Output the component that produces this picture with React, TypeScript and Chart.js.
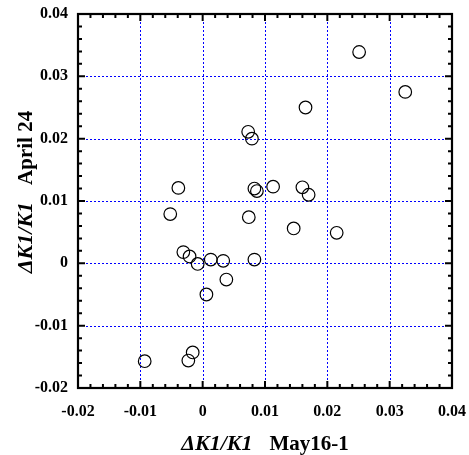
import React, { useEffect, useRef } from "react";
import { Chart, registerables } from "chart.js";

Chart.register(...registerables);

// ΔK1/K1 May16-1 (x) vs ΔK1/K1 April 24 (y)
const xValues = [
  0.0251, 0.0325, 0.0165, 0.0073, 0.0079, -0.0039, 0.0083, 0.0087, 0.0113,
  0.016, 0.017, -0.0052, 0.0074, 0.0146, 0.0215, 0.0083, -0.0031, -0.0021,
  -0.0008, 0.0013, 0.0033, 0.0038, 0.0006, -0.0093, -0.0016, -0.0023,
];
const yValues = [
  0.0339, 0.0275, 0.025, 0.0211, 0.02, 0.0121, 0.012, 0.0116, 0.0123, 0.0122,
  0.011, 0.0079, 0.0074, 0.0056, 0.0049, 0.0006, 0.0018, 0.0011, -0.0001,
  0.0006, 0.0004, -0.0026, -0.005, -0.0157, -0.0143, -0.0156,
];
const axisMin = -0.02;
const axisMax = 0.04;
const majorStep = 0.01;
const minorStep = 0.002;
const xTitleItalic = "\u0394K1/K1";
const xTitleRest = "May16-1";
const yTitleItalic = "\u0394K1/K1";
const yTitleRest = "April 24";

const FONT = '"Liberation Serif", "Times New Roman", serif';

function fmt(v: number) {
  const r = parseFloat(v.toFixed(4));
  return r === 0 ? "0" : String(r);
}

const framePlugin = {
  id: "frame",
  beforeDatasetsDraw(chart: any) {
    const { ctx, chartArea: a, scales } = chart;
    const xs = scales.x;
    const ys = scales.y;
    ctx.save();
    ctx.strokeStyle = "#0000ff";
    ctx.lineWidth = 1;
    ctx.setLineDash([2, 2]);
    const nMaj = Math.round((axisMax - axisMin) / majorStep);
    for (let i = 1; i < nMaj; i++) {
      const v = axisMin + i * majorStep;
      const px = Math.round(xs.getPixelForValue(v)) + 0.5;
      ctx.beginPath();
      ctx.moveTo(px, a.top + 8);
      ctx.lineTo(px, a.bottom - 8);
      ctx.stroke();
      const py = Math.round(ys.getPixelForValue(v)) + 0.5;
      ctx.beginPath();
      ctx.moveTo(a.left + 8, py);
      ctx.lineTo(a.right - 8, py);
      ctx.stroke();
    }
    ctx.restore();
  },
  afterDraw(chart: any) {
    const { ctx, chartArea: a, scales } = chart;
    const xs = scales.x;
    const ys = scales.y;
    ctx.save();
    ctx.strokeStyle = "#000";
    ctx.lineWidth = 2;
    ctx.setLineDash([]);
    const nMin = Math.round((axisMax - axisMin) / minorStep);
    for (let i = 0; i <= nMin; i++) {
      const v = axisMin + i * minorStep;
      const len = i % 5 === 0 ? 7 : 4;
      const px = xs.getPixelForValue(v);
      const py = ys.getPixelForValue(v);
      ctx.beginPath();
      ctx.moveTo(px, a.bottom);
      ctx.lineTo(px, a.bottom - len);
      ctx.moveTo(px, a.top);
      ctx.lineTo(px, a.top + len);
      ctx.moveTo(a.left, py);
      ctx.lineTo(a.left + len, py);
      ctx.moveTo(a.right, py);
      ctx.lineTo(a.right - len, py);
      ctx.stroke();
    }
    ctx.lineWidth = 2.2;
    ctx.strokeRect(a.left, a.top, a.right - a.left, a.bottom - a.top);

    // axis titles (mixed italic / upright)
    ctx.fillStyle = "#000";
    ctx.textBaseline = "alphabetic";
    ctx.textAlign = "left";
    const fItalic = `italic bold 22px ${FONT}`;
    const fBold = `bold 21px ${FONT}`;
    const gap = 17;
    // x title
    ctx.font = fItalic;
    const w1 = ctx.measureText(xTitleItalic).width;
    ctx.font = fBold;
    const w2 = ctx.measureText(xTitleRest).width;
    const cx = (a.left + a.right) / 2;
    let sx = cx - (w1 + gap + w2) / 2;
    ctx.font = fItalic;
    ctx.fillText(xTitleItalic, sx, 450);
    ctx.font = fBold;
    ctx.fillText(xTitleRest, sx + w1 + gap, 450);
    // y title
    ctx.font = fItalic;
    const v1 = ctx.measureText(yTitleItalic).width;
    ctx.font = fBold;
    const v2 = ctx.measureText(yTitleRest).width;
    const cy = (a.top + a.bottom) / 2 - 9;
    ctx.translate(32, cy);
    ctx.rotate(-Math.PI / 2);
    let sy = -(v1 + gap + v2) / 2;
    ctx.font = fItalic;
    ctx.fillText(yTitleItalic, sy, 0);
    ctx.font = fBold;
    ctx.fillText(yTitleRest, sy + v1 + gap, 0);
    ctx.restore();
  },
};

export default function App() {
  const ref = useRef<HTMLCanvasElement>(null);
  useEffect(() => {
    if (!ref.current) return;
    const points = xValues.map((x, i) => ({ x, y: yValues[i] }));
    const chart = new Chart(ref.current, {
      type: "scatter",
      data: {
        datasets: [
          {
            data: points,
            pointRadius: 6.3,
            pointHoverRadius: 6.3,
            pointBorderWidth: 1.2,
            pointBorderColor: "#000",
            pointBackgroundColor: "rgba(0,0,0,0)",
          },
        ],
      },
      options: {
        responsive: false,
        animation: false,
        events: [],
        layout: { padding: { left: 0, right: 17, top: 14, bottom: 0 } },
        plugins: { legend: { display: false }, tooltip: { enabled: false } },
        scales: {
          x: {
            type: "linear",
            min: axisMin,
            max: axisMax,
            grid: { display: false, drawTicks: false },
            border: { display: false },
            ticks: {
              stepSize: majorStep,
              padding: 14,
              color: "#000",
              font: { family: FONT, size: 16, weight: "bold" },
              callback: (v: any) => fmt(Number(v)),
              maxRotation: 0,
              autoSkip: false,
            },
            afterFit: (s: any) => {
              s.height = 67;
              s.paddingLeft = 0;
              s.paddingRight = 0;
            },
          },
          y: {
            type: "linear",
            min: axisMin,
            max: axisMax,
            grid: { display: false, drawTicks: false },
            border: { display: false },
            ticks: {
              stepSize: majorStep,
              padding: 10,
              color: "#000",
              font: { family: FONT, size: 16, weight: "bold" },
              callback: (v: any) => fmt(Number(v)),
              autoSkip: false,
            },
            afterFit: (s: any) => {
              s.width = 78;
              s.paddingTop = 0;
              s.paddingBottom = 0;
            },
          },
        },
      },
      plugins: [framePlugin],
    } as any);
    return () => chart.destroy();
  }, []);
  return (
    <div style={{ position: "fixed", left: 0, top: 0, width: 469, height: 455, background: "#fff" }}>
      <canvas ref={ref} width={469} height={455} />
    </div>
  );
}
